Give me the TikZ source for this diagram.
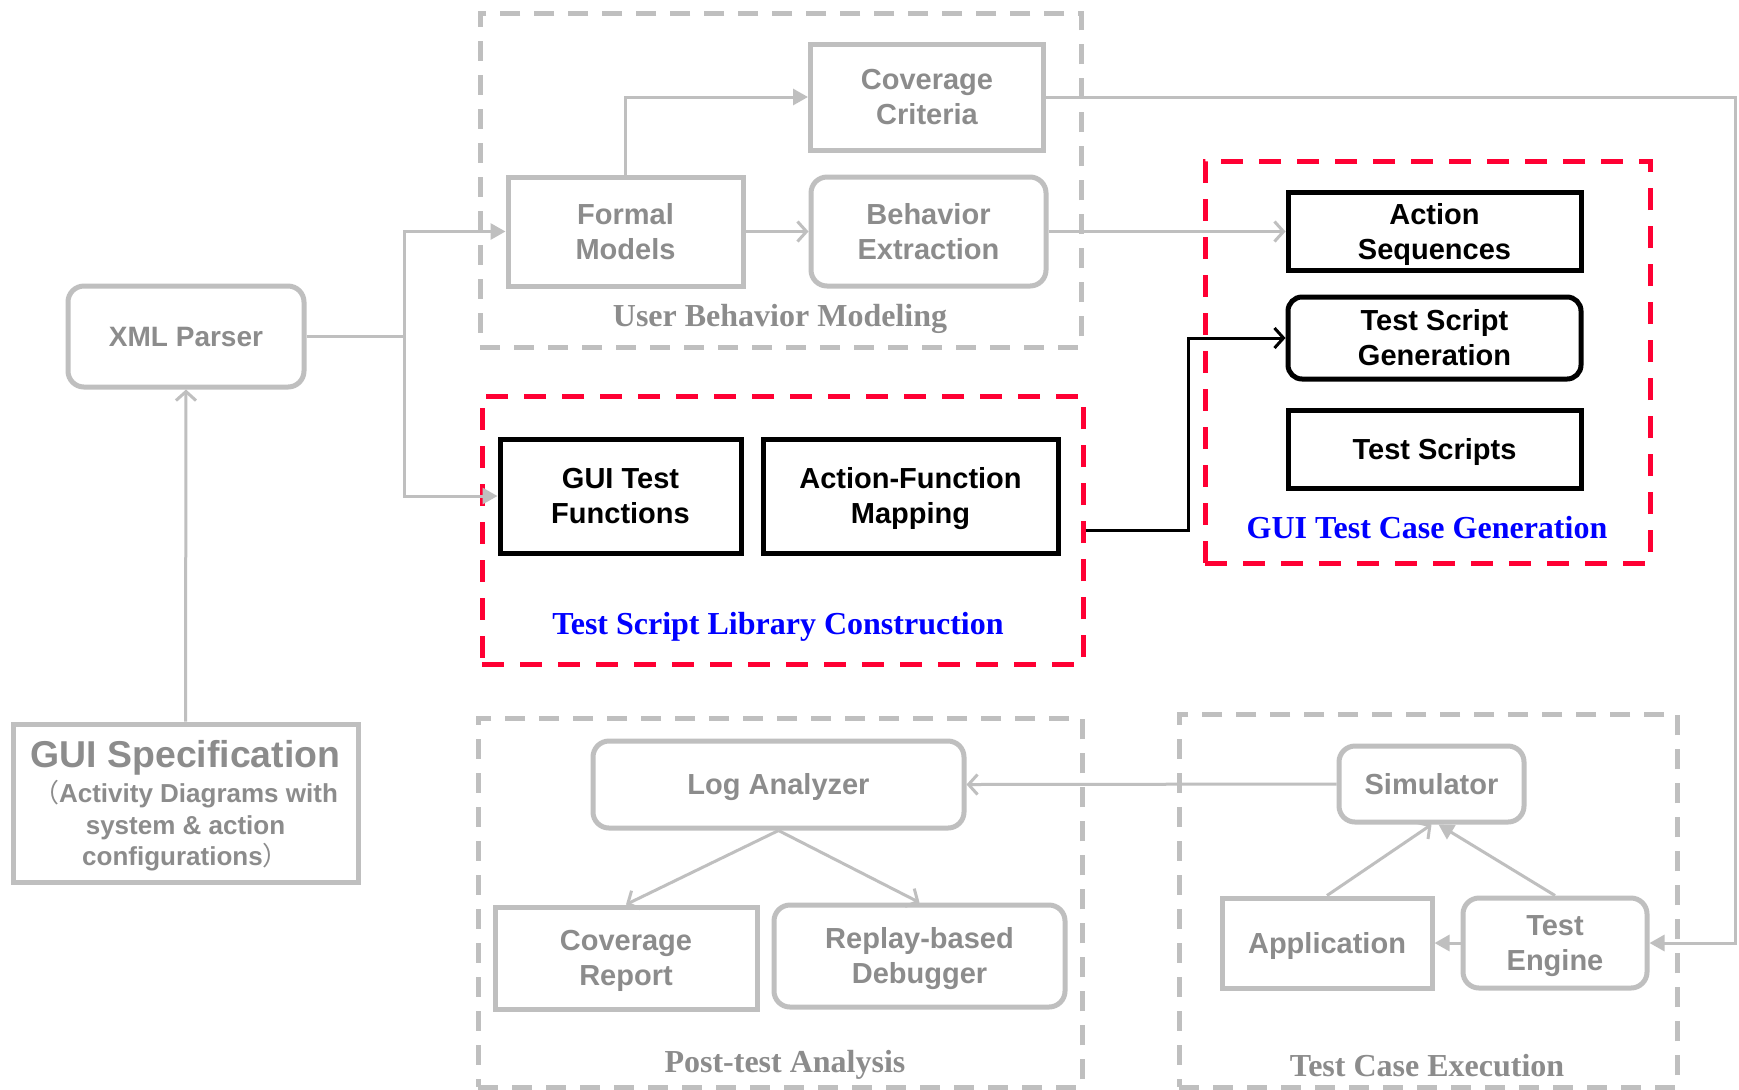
\documentclass[tikz,border=0pt]{standalone}
\usepackage{fontspec}
\usetikzlibrary{arrows.meta}
\newfontfamily\boxfont{Liberation Sans}
\newfontfamily\labfont{Liberation Serif}
\newfontfamily\cjkfont{Noto Sans CJK SC}
\definecolor{linegray}{HTML}{BFBFBF}
\definecolor{textgray}{HTML}{8C8C8C}
\definecolor{framered}{HTML}{FF0033}
\definecolor{labblue}{HTML}{0000FF}
% line-box strut so that a label is centred on its full ascent/descent
\newcommand\serifstrut{\rule[-0.216em]{0pt}{1.107em}}
\tikzset{
  graybox/.style={draw=linegray, line width=2.5pt, text=textgray, fill=white,
    font=\boxfont\bfseries\fontsize{14.5}{17.5}\selectfont, align=center, inner sep=0pt},
  grayround/.style={graybox, rounded corners=8pt},
  blackbox/.style={draw=black, line width=2.5pt, text=black, fill=white,
    font=\boxfont\bfseries\fontsize{14.5}{17.5}\selectfont, align=center, inner sep=0pt},
  blackround/.style={blackbox, rounded corners=7pt},
  oneline/.style={text height=13.1pt, text depth=3.1pt},
  twoline/.style={text height=30.6pt, text depth=3.1pt},
  grayframe/.style={draw=linegray, line width=2.5pt, dash pattern=on 10pt off 7pt, inner sep=0pt},
  redframe/.style={draw=framered, line width=2.5pt, dash pattern=on 11pt off 8pt, inner sep=0pt},
  graylabel/.style={text=textgray, font=\labfont\bfseries\fontsize{16}{19}\selectfont,
    execute at begin node=\serifstrut},
  bluelabel/.style={text=labblue, font=\labfont\bfseries\fontsize{16}{19}\selectfont,
    execute at begin node=\serifstrut},
  conn/.style={draw=linegray, line width=1.5pt},
  openarr/.style={conn, -{Straight Barb[length=4.5pt, width=10pt, line width=1.5pt]}},
  fillarr/.style={conn, -{Triangle[length=7.5pt, width=8pt]}},
  blackarr/.style={draw=black, line width=1.5pt, -{Straight Barb[length=4.5pt, width=10pt, line width=1.5pt]}},
}
\begin{document}
\begin{tikzpicture}[x=0.5pt, y=-0.5pt]
\useasboundingbox[fill=white] (0,0) rectangle (1739,1089);

% group frames
\node[grayframe, minimum width=300.5pt, minimum height=167pt] (ubm) at (780.5,180) {};
\node[redframe, minimum width=300.5pt, minimum height=134pt] (tslc) at (782.5,530) {};
\node[redframe, minimum width=222.5pt, minimum height=201pt] (gtcg) at (1427.5,362) {};
\node[grayframe, minimum width=302pt, minimum height=184.5pt] (pta) at (780,902.5) {};
\node[grayframe, minimum width=249pt, minimum height=186.5pt] (tce) at (1428,900.5) {};

\node[graylabel] (ubmlab) at (780,316) {User Behavior Modeling};
\node[bluelabel] (tslclab) at (778,624) {Test Script Library Construction};
\node[bluelabel] (gtcglab) at (1427,528) {GUI Test Case Generation};
\node[graylabel] (ptalab) at (785,1062) {Post-test Analysis};
\node[graylabel] (tcelab) at (1427,1066) {Test Case Execution};

% user behavior modeling
\node[graybox, twoline, minimum width=116.5pt, minimum height=53pt] (cc) at (927,97) {Coverage\\Criteria};
\node[graybox, twoline, minimum width=117.5pt, minimum height=54.5pt] (fm) at (625.5,231.5) {Formal\\Models};
\node[grayround, twoline, minimum width=117.5pt, minimum height=54.5pt] (be) at (928.5,231.5) {Behavior\\Extraction};

% input side
\node[grayround, minimum width=118pt, minimum height=50.5pt, text height=12.7pt, text depth=3pt,
      font=\boxfont\bfseries\fontsize{14}{17}\selectfont] (xml) at (186,336.5) {XML Parser};
\node[graybox, minimum width=172.5pt, minimum height=79pt, text depth=0pt,
      font=\boxfont\bfseries\fontsize{13}{15.8}\selectfont] (spec) at (185.5,803)
  {{\fontsize{18.7}{22}\selectfont GUI Specification}\\[2pt]
   {\cjkfont\mdseries （}Activity Diagrams with\\
   system \& action\\
   configurations{\cjkfont\mdseries ）}};

% test script library
\node[blackbox, twoline, minimum width=120.5pt, minimum height=57pt] (gtf) at (620.5,496) {GUI Test\\Functions};
\node[blackbox, twoline, minimum width=147.5pt, minimum height=57pt] (afm) at (910.5,496) {Action-Function\\Mapping};

% test case generation
\node[blackbox, twoline, minimum width=146.5pt, minimum height=39pt] (as) at (1434.5,231.5) {Action\\Sequences};
\node[blackround, twoline, minimum width=146.5pt, minimum height=41pt] (tsg) at (1434.5,338) {Test Script\\Generation};
\node[blackbox, oneline, minimum width=146.5pt, minimum height=39pt] (ts) at (1434.5,449) {Test Scripts};

% post-test analysis
\node[grayround, oneline, minimum width=185.5pt, minimum height=43.5pt] (log) at (778.5,784.5) {Log Analyzer};
\node[graybox, twoline, minimum width=131pt, minimum height=51pt] (cr) at (626,958) {Coverage\\Report};
\node[grayround, twoline, minimum width=145.5pt, minimum height=51pt] (rd) at (919.5,956) {Replay-based\\Debugger};

% test case execution
\node[grayround, oneline, minimum width=92.5pt, minimum height=38pt] (sim) at (1431.5,784) {Simulator};
\node[graybox, oneline, minimum width=105pt, minimum height=45pt] (app) at (1327,943) {Application};
\node[grayround, twoline, minimum width=92pt, minimum height=45pt] (te) at (1555,943) {Test\\Engine};

% connectors
\draw[openarr] (spec.north) -- (xml.south);
\draw[conn] (xml.east) -- ++(97.5,0) coordinate (split);
\draw[fillarr] (split) |- (fm.west);
\draw[fillarr] (split) |- (gtf.west);
\draw[fillarr] (fm.north) |- (cc.west);
\draw[openarr] (fm.east) -- (be.west);
\draw[openarr] (be.east) -- (as.west);
\draw[fillarr] (cc.east) -- ++(689,0) |- (te.east);
\draw[blackarr] (tslc.east) -- ++(102.5,0) |- (tsg.west);
\draw[openarr] (sim.west) -- (log.east);
\draw[openarr] (log.south) -- (cr.north);
\draw[openarr] (log.south) -- (rd.north);
\draw[openarr] (app.north) -- (sim.south);
\draw[fillarr] (te.north) -- ([xshift=3.5pt]sim.south);
\draw[fillarr] (te.west) -- (app.east);
\end{tikzpicture}
\end{document}
